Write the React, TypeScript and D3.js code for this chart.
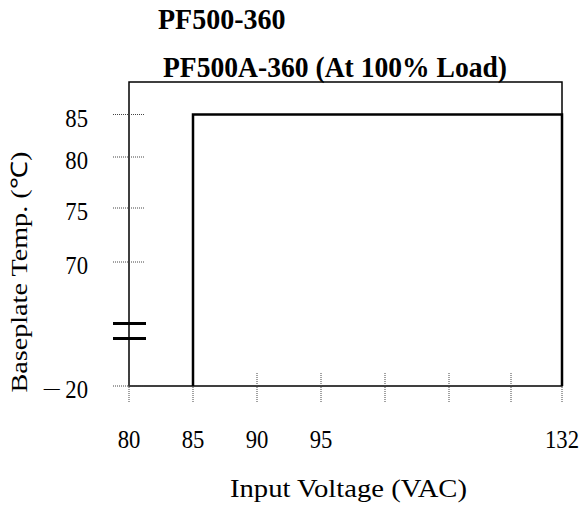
import { useEffect, useRef } from 'react';
import * as d3 from 'd3';

// axis ticks (the chart uses broken axes, so ticks are not evenly spaced)
const voltageTicks = [80, 85, 90, 95, 100, 105, 110, 132];
const voltageLabels = ['80', '85', '90', '95', '', '', '', '132'];
const tempTicks = [-20, 70, 75, 80, 85];
const tempLabels = ['\u221220', '70', '75', '80', '85'];

// derating curve at 100% load
const curveVoltage = [85, 85, 132, 132];
const curveTemp = [-20, 85, 85, -20];

const App = () => {
  const svgRef = useRef<SVGSVGElement | null>(null);

  useEffect(() => {
    const width = 587;
    const height = 506;
    const left = 129;
    const right = 562;
    const top = 82;
    const bottom = 386;
    const font = "'Liberation Serif', 'Times New Roman', serif";

    const svg = d3.select(svgRef.current);
    svg.selectAll('*').remove();
    svg.attr('width', width).attr('height', height);

    // piecewise scales for the broken axes
    const x = d3.scaleLinear()
      .domain(voltageTicks)
      .range([left, 193, 257, 321, 385, 449, 511, right]);
    const y = d3.scaleLinear()
      .domain(tempTicks)
      .range([bottom, 262, 208, 157, 114.5]);

    // frame
    svg.append('rect')
      .attr('x', left)
      .attr('y', top)
      .attr('width', right - left)
      .attr('height', bottom - top)
      .attr('fill', 'none')
      .attr('stroke', '#000')
      .attr('stroke-width', 1.5);

    // dotted y ticks
    svg.append('g').selectAll('line')
      .data(tempTicks)
      .enter()
      .append('line')
      .attr('x1', left - 16)
      .attr('x2', left + 15)
      .attr('y1', d => y(d))
      .attr('y2', d => y(d))
      .attr('stroke', '#444')
      .attr('stroke-width', 1)
      .attr('stroke-dasharray', '1,1');

    // dotted x ticks
    svg.append('g').selectAll('line')
      .data(voltageTicks)
      .enter()
      .append('line')
      .attr('x1', d => x(d))
      .attr('x2', d => x(d))
      .attr('y1', bottom - 13)
      .attr('y2', bottom + 17)
      .attr('stroke', '#444')
      .attr('stroke-width', 1)
      .attr('stroke-dasharray', '1,1');

    // axis break marks
    const breakMid = (y(70) + y(-20)) / 2 + 7;
    [breakMid - 7.5, breakMid + 7.5].forEach(by => {
      svg.append('line')
        .attr('x1', left - 16)
        .attr('x2', left + 17)
        .attr('y1', by)
        .attr('y2', by)
        .attr('stroke', '#000')
        .attr('stroke-width', 3);
    });

    // derating curve
    const points = curveVoltage.map((v, i) => [v, curveTemp[i]] as [number, number]);
    const line = d3.line<[number, number]>()
      .x(d => x(d[0]))
      .y(d => y(d[1]));
    svg.append('path')
      .attr('d', line(points) as string)
      .attr('fill', 'none')
      .attr('stroke', '#000')
      .attr('stroke-width', 2.5);

    // y tick labels (the minus sign is drawn as a long thin dash)
    svg.append('g').selectAll('text')
      .data(tempTicks)
      .enter()
      .append('text')
      .attr('transform', d => `translate(88, ${y(d) + 12}) scale(1, 1.12)`)
      .attr('text-anchor', 'end')
      .style('font-family', font)
      .style('font-size', '22.7px')
      .each(function (_, i) {
        const t = d3.select(this);
        const label = tempLabels[i];
        if (label.startsWith('\u2212')) {
          t.append('tspan')
            .attr('dy', -3.5)
            .style('font-size', '16px')
            .text('\u2014');
          t.append('tspan')
            .attr('dy', 3.5)
            .text('\u00a0' + label.slice(1));
        } else {
          t.text(label);
        }
      });

    // x tick labels
    svg.append('g').selectAll('text')
      .data(voltageTicks)
      .enter()
      .append('text')
      .attr('transform', d => `translate(${x(d)}, 448) scale(1, 1.12)`)
      .attr('text-anchor', 'middle')
      .style('font-family', font)
      .style('font-size', '22.7px')
      .text((_, i) => voltageLabels[i]);

    // titles
    svg.append('text')
      .attr('transform', 'translate(158, 29) scale(1, 1.04)')
      .style('font-family', font)
      .style('font-size', '28px')
      .style('font-weight', 'bold')
      .text('PF500-360');

    svg.append('text')
      .attr('transform', 'translate(163, 77) scale(1, 1.04)')
      .attr('textLength', 344)
      .attr('lengthAdjust', 'spacingAndGlyphs')
      .style('font-family', font)
      .style('font-size', '28px')
      .style('font-weight', 'bold')
      .text('PF500A-360 (At 100% Load)');

    // axis titles
    svg.append('text')
      .attr('x', 348.5)
      .attr('y', 497)
      .attr('text-anchor', 'middle')
      .attr('textLength', 237)
      .attr('lengthAdjust', 'spacingAndGlyphs')
      .style('font-family', font)
      .style('font-size', '25px')
      .text('Input Voltage (VAC)');

    svg.append('text')
      .attr('transform', 'translate(27, 272) rotate(-90)')
      .attr('text-anchor', 'middle')
      .attr('textLength', 241)
      .attr('lengthAdjust', 'spacingAndGlyphs')
      .style('font-family', font)
      .style('font-size', '22.7px')
      .text('Baseplate Temp. (\u2103)');
  }, []);

  return (
    <svg
      ref={svgRef}
      style={{ position: 'absolute', left: 0, top: 0, display: 'block', background: '#fff' }}
    ></svg>
  );
};

export default App;
